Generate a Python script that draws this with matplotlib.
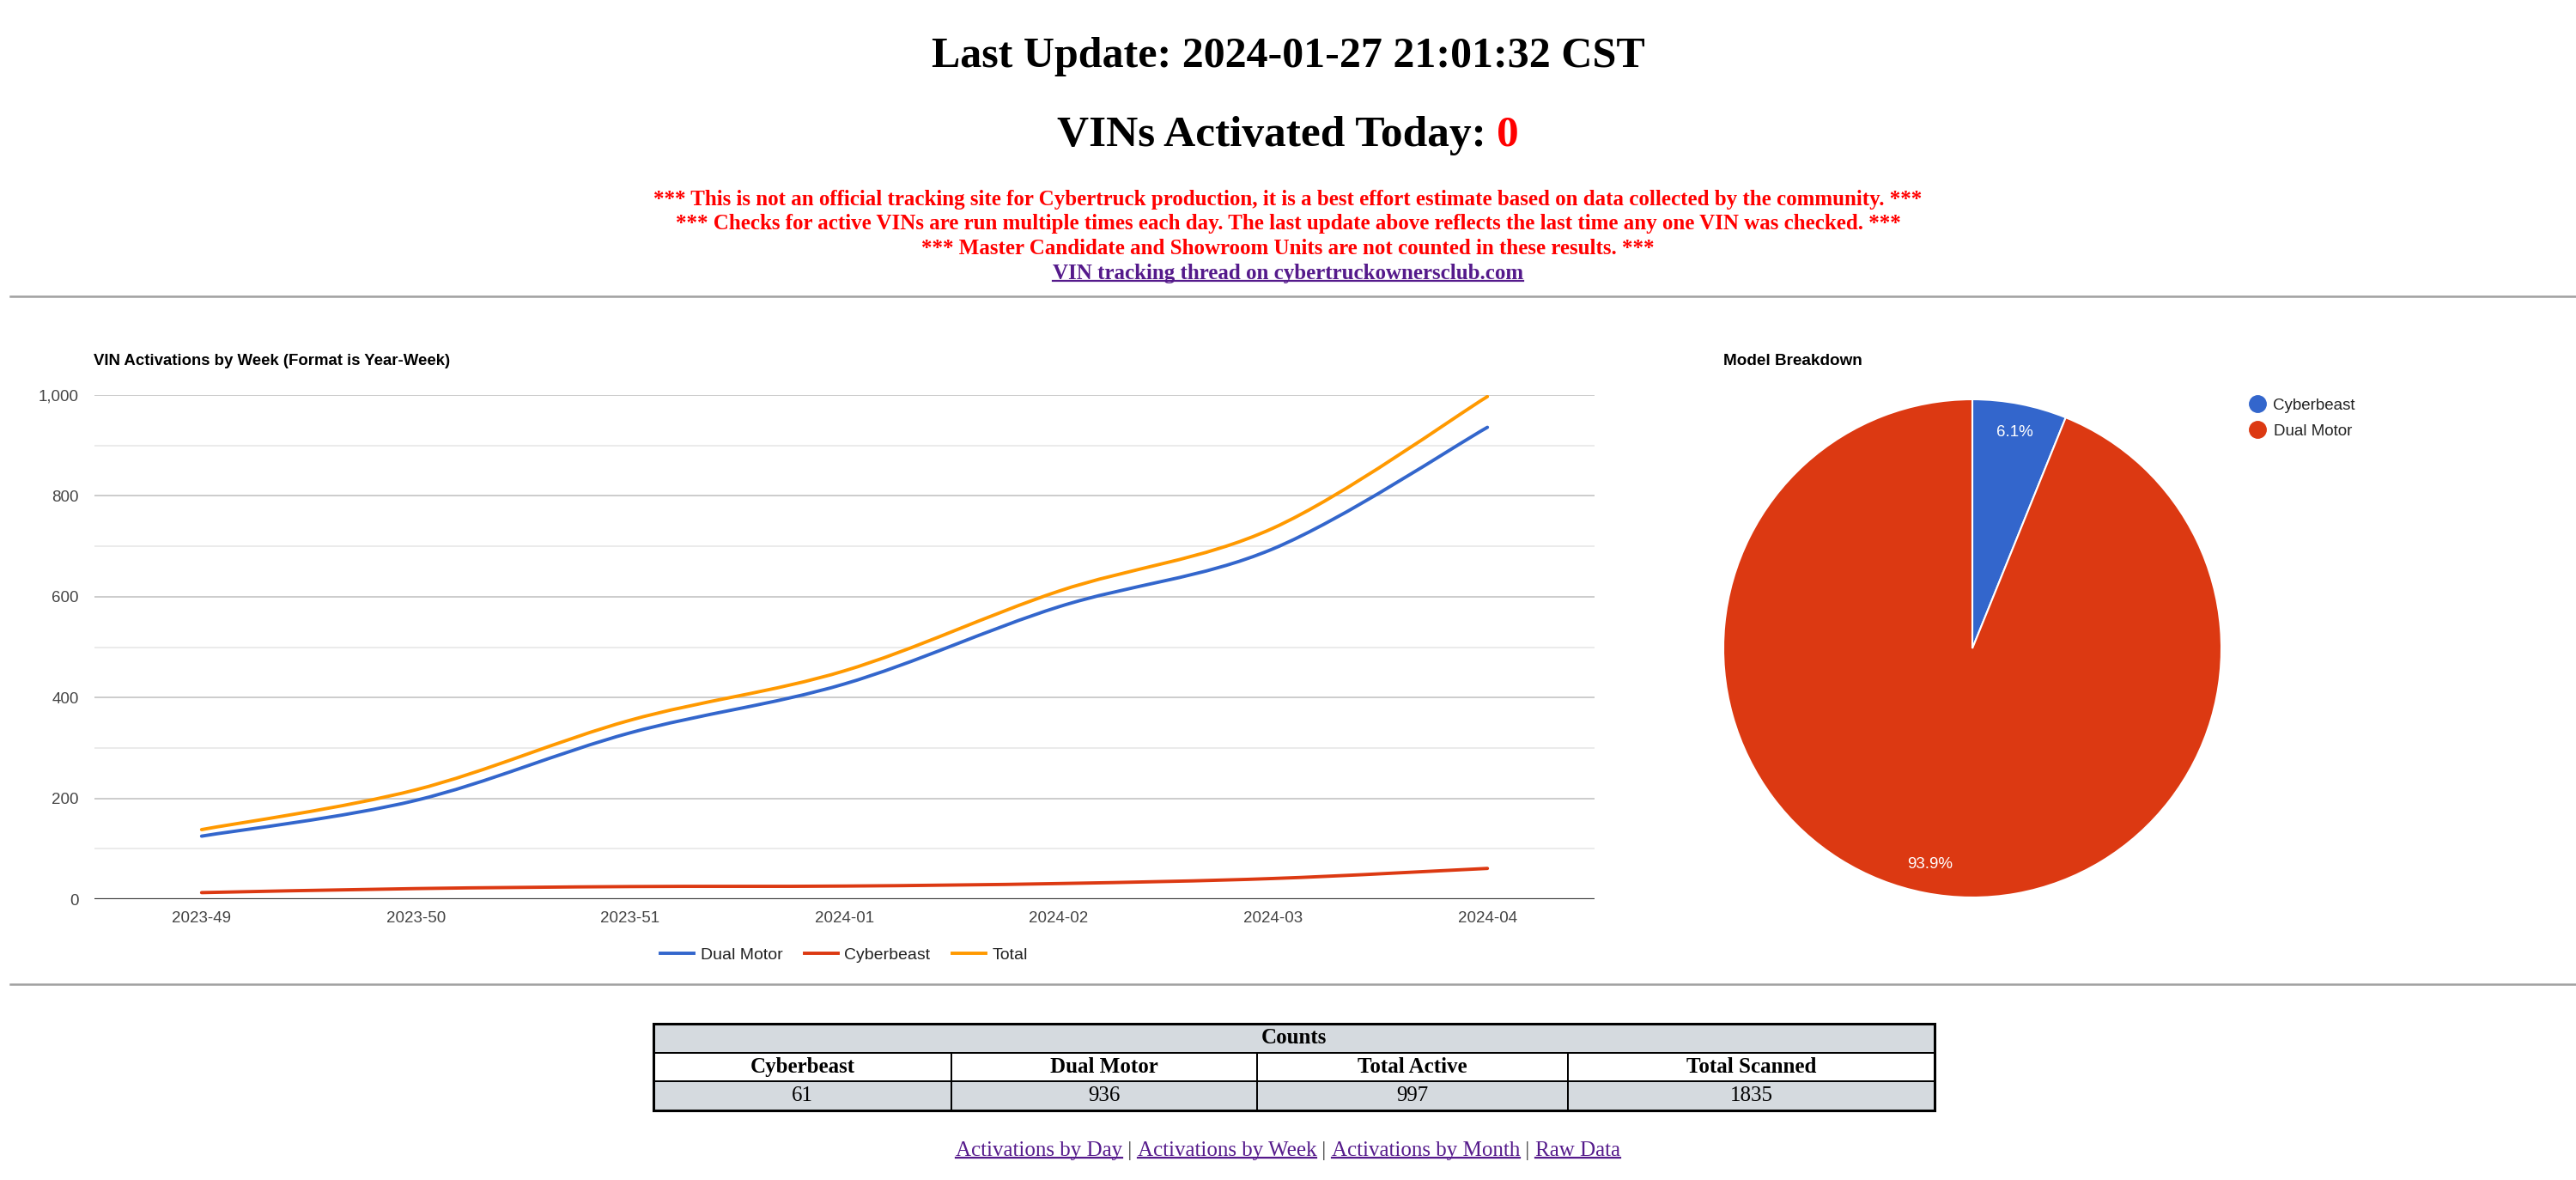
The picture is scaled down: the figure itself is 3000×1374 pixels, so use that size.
import matplotlib
matplotlib.use('Agg')
import matplotlib.pyplot as plt
from matplotlib.lines import Line2D
from matplotlib.path import Path
from matplotlib.patches import PathPatch, Rectangle

# data
weeks = ['2023-49', '2023-50', '2023-51', '2024-01', '2024-02', '2024-03', '2024-04']
dual_motor = [125, 196, 330, 427, 580, 695, 936]
cyberbeast = [13, 21, 25, 26, 31, 41, 61]
total = [138, 217, 355, 453, 611, 736, 997]

pie_labels = ['Cyberbeast', 'Dual Motor']
pie_values = [61, 936]

count_headers = ['Cyberbeast', 'Dual Motor', 'Total Active', 'Total Scanned']
count_values = ['61', '936', '997', '1835']

last_update = '2024-01-27 21:01:32 CST'
activated_today = 0
notes = [
    '*** This is not an official tracking site for Cybertruck production, it is a best effort estimate based on data collected by the community. ***',
    '*** Checks for active VINs are run multiple times each day. The last update above reflects the last time any one VIN was checked. ***',
    '*** Master Candidate and Showroom Units are not counted in these results. ***',
]
thread_link = 'VIN tracking thread on cybertruckownersclub.com'
footer_links = ['Activations by Day', 'Activations by Week', 'Activations by Month', 'Raw Data']

BLUE = '#3366cc'
RED = '#dc3912'
ORANGE = '#ff9900'
LINK = '#551a8b'
SERIF = 'Liberation Serif'
SANS = 'Liberation Sans'

W, H = 3000, 1374
fig = plt.figure(figsize=(W / 100, H / 100), dpi=100)
renderer = fig.canvas.get_renderer()


def fx(x):
    return x / W


def fy(y):
    return 1 - y / H


def text_row(y, pieces, size, weight='normal'):
    # pieces: (text, color, underline) drawn side by side, centred on the page
    items = []
    for s, color, under in pieces:
        t = fig.text(0, fy(y), s, color=color, fontsize=size, fontweight=weight,
                     family=SERIF, va='baseline', ha='left')
        items.append((t, under, color))
    widths = [t.get_window_extent(renderer).width for t, _, _ in items]
    x = (W - sum(widths)) / 2
    for (t, under, color), w in zip(items, widths):
        t.set_x(fx(x))
        if under:
            uy = y + size * 0.13
            fig.add_artist(Line2D([fx(x), fx(x + w)], [fy(uy), fy(uy)],
                                  color=color, lw=1.6))
        x += w


# header block
text_row(78, [('Last Update: ' + last_update, 'black', False)], 36, 'bold')
text_row(170, [('VINs Activated Today: ', 'black', False),
               (str(activated_today), 'red', False)], 37, 'bold')
for i, n in enumerate(notes):
    text_row(239 + i * 28.5, [(n, 'red', False)], 18, 'bold')
text_row(325, [(thread_link, LINK, True)], 18, 'bold')

for y in (345, 1146):
    fig.add_artist(Line2D([fx(12), 1], [fy(y), fy(y)], color='#a0a0a0', lw=1.8))

# line chart
ax = fig.add_axes([fx(110), fy(1047), fx(1857 - 110), (1047 - 460) / H])
xs = list(range(len(weeks)))


def smooth_line(vals, color):
    verts = [(xs[0], vals[0])]
    codes = [Path.MOVETO]
    n = len(vals)
    for i in range(n - 1):
        a = max(i - 1, 0)
        b = min(i + 2, n - 1)
        c1 = (xs[i] + (xs[i + 1] - xs[a]) / 6, vals[i] + (vals[i + 1] - vals[a]) / 6)
        c2 = (xs[i + 1] - (xs[b] - xs[i]) / 6, vals[i + 1] - (vals[b] - vals[i]) / 6)
        verts += [c1, c2, (xs[i + 1], vals[i + 1])]
        codes += [Path.CURVE4] * 3
    ax.add_patch(PathPatch(Path(verts, codes), fill=False, edgecolor=color,
                           lw=2.8, zorder=3, capstyle='round'))


smooth_line(dual_motor, BLUE)
smooth_line(cyberbeast, RED)
smooth_line(total, ORANGE)

ax.set_xlim(-0.5, 6.5)
ax.set_ylim(0, 1000)
ax.set_xticks(xs)
ax.set_xticklabels(weeks)
ax.set_yticks([0, 200, 400, 600, 800, 1000])
ax.set_yticklabels(['0', '200', '400', '600', '800', '1,000'])
ax.set_yticks([100, 300, 500, 700, 900], minor=True)
ax.tick_params(axis='both', length=0, labelsize=13.5, labelcolor='#444444')
ax.tick_params(axis='x', pad=10)
ax.tick_params(axis='y', pad=13)
ax.tick_params(which='minor', length=0)
for lab in ax.get_xticklabels() + ax.get_yticklabels():
    lab.set_family(SANS)
ax.grid(axis='y', which='major', color='#cccccc', lw=1.4)
ax.grid(axis='y', which='minor', color='#ebebeb', lw=1.4)
ax.set_axisbelow(True)
for sp in ax.spines.values():
    sp.set_visible(False)
ax.axhline(0, color='#333333', lw=1.6, zorder=4)

fig.text(fx(109), fy(421), 'VIN Activations by Week (Format is Year-Week)',
         fontsize=13.4, fontweight='bold', family=SANS, va='center', ha='left')

handles = [Line2D([], [], color=c, lw=2.8) for c in (BLUE, RED, ORANGE)]
fig.legend(handles, ['Dual Motor', 'Cyberbeast', 'Total'], loc='center',
           bbox_to_anchor=(fx(983), fy(1112)), ncol=3, frameon=False,
           handlelength=2.0, handletextpad=0.4, columnspacing=1.3,
           prop={'family': SANS, 'size': 14}, labelcolor='#222222')

# pie chart
pax = fig.add_axes([fx(2297 - 290), fy(755 + 290), 580 / W, 580 / H])
pax.pie(pie_values, colors=[BLUE, RED], startangle=90, counterclock=False,
        radius=1, autopct='%.1f%%', pctdistance=0.885,
        wedgeprops={'edgecolor': 'white', 'linewidth': 1.5},
        textprops={'color': 'white', 'fontsize': 13.5, 'family': SANS})
pax.set_xlim(-1, 1)
pax.set_ylim(-1, 1)
pax.set_aspect('equal')

fig.text(fx(2007), fy(420), 'Model Breakdown', fontsize=13.6, fontweight='bold',
         family=SANS, va='center', ha='left')

pie_handles = [Line2D([], [], marker='o', linestyle='none', markersize=14,
                      markerfacecolor=c, markeredgecolor=c) for c in (BLUE, RED)]
fig.legend(pie_handles, pie_labels, loc='upper left',
           bbox_to_anchor=(fx(2610), fy(454)), frameon=False, borderpad=0,
           handlelength=1.0, handletextpad=0.5, labelspacing=0.7,
           prop={'family': SANS, 'size': 13.5}, labelcolor='#222222')

# counts table
tax = fig.add_axes([fx(761), fy(1293), 1492 / W, (1293 - 1192) / H])
tax.axis('off')
GREY = '#d5dadf'
col_w = [347, 356, 362, 427]
col_w = [w / sum(col_w) for w in col_w]

t1 = tax.table(cellText=[['Counts']], cellLoc='center', bbox=[0, 2 / 3, 1, 1 / 3])
t2 = tax.table(cellText=[count_headers, count_values], cellLoc='center',
               colWidths=col_w, bbox=[0, 0, 1, 2 / 3])
for t in (t1, t2):
    t.auto_set_font_size(False)
for (r, c), cell in t1.get_celld().items():
    cell.set_facecolor(GREY)
    cell.set_edgecolor('black')
    cell.set_linewidth(1.4)
    cell.get_text().set_fontproperties({'family': SERIF, 'size': 18, 'weight': 'bold'})
for (r, c), cell in t2.get_celld().items():
    cell.set_edgecolor('black')
    cell.set_linewidth(1.4)
    if r == 0:
        cell.set_facecolor('white')
        cell.get_text().set_fontproperties({'family': SERIF, 'size': 18, 'weight': 'bold'})
    else:
        cell.set_facecolor(GREY)
        cell.get_text().set_fontproperties({'family': SERIF, 'size': 18})
tax.add_patch(Rectangle((0, 0), 1, 1, transform=tax.transAxes, fill=False,
                        edgecolor='black', lw=2.2, clip_on=False, zorder=5))

# footer links
pieces = []
for i, s in enumerate(footer_links):
    if i:
        pieces.append((' | ', '#444444', False))
    pieces.append((s, LINK, True))
text_row(1346, pieces, 18)

fig.savefig('out.png', dpi=100, facecolor='white')
